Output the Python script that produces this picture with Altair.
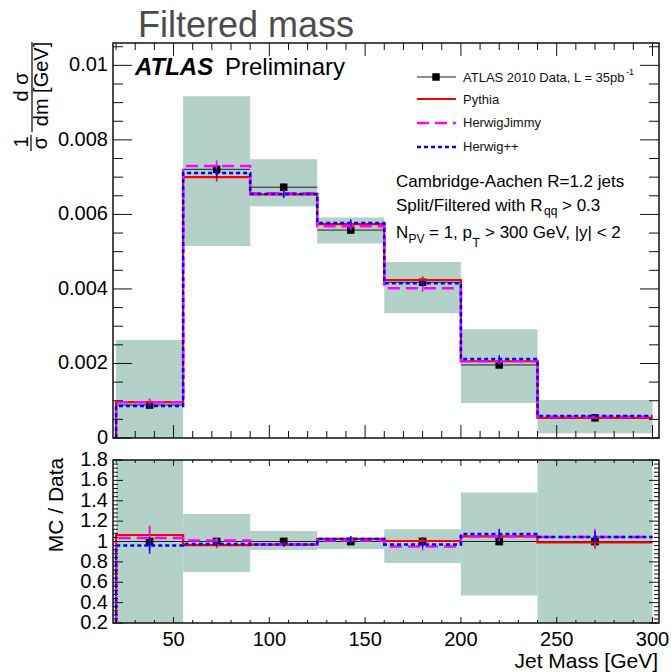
import altair as alt
import pandas as pd

# ---------------- data ----------------
bin_edges = [20, 55, 90, 125, 160, 200, 240, 300]
bin_centers = [37.5, 72.5, 107.5, 142.5, 180, 220, 270]

data_vals = [0.000885, 0.00721, 0.00673, 0.00558, 0.00418, 0.00196, 0.00054]
data_errs = [0.00004, 0.00009, 0.00009, 0.00007, 0.00006, 0.00004, 0.00002]
syst_lo = [0.0, 0.00515, 0.00622, 0.00522, 0.00335, 0.00094, 0.00013]
syst_hi = [0.00263, 0.00917, 0.00748, 0.00592, 0.00472, 0.00292, 0.00102]

pythia_vals = [0.000965, 0.00700, 0.00654, 0.00574, 0.00424, 0.00206, 0.00054]
jimmy_vals = [0.00096, 0.00730, 0.00657, 0.00568, 0.00402, 0.00206, 0.00057]
herwigpp_vals = [0.00086, 0.00711, 0.00655, 0.00577, 0.00415, 0.00212, 0.00059]
pythia_errs = [0.00008, 0.00012, 0.00010, 0.00008, 0.00010, 0.00007, 0.00003]
jimmy_errs = [0.00010, 0.00015, 0.00010, 0.00010, 0.00010, 0.00008, 0.00004]
herwigpp_errs = [0.00007, 0.00012, 0.00010, 0.00010, 0.00008, 0.00010, 0.00003]

ratio_syst_lo = [0.2, 0.70, 0.917, 0.926, 0.79, 0.47, 0.2]
ratio_syst_hi = [1.8, 1.27, 1.103, 1.037, 1.12, 1.48, 1.8]
ratio_data = [1, 1, 1, 1, 1, 1, 1]
ratio_data_errs = [0.05, 0.015, 0.015, 0.015, 0.015, 0.02, 0.04]
pythia_ratio = [1.064, 0.965, 0.97, 1.025, 1.005, 1.05, 0.99]
jimmy_ratio = [1.035, 1.01, 0.97, 1.01, 0.95, 1.05, 1.044]
herwigpp_ratio = [0.96, 0.975, 0.97, 1.025, 0.97, 1.074, 1.044]
pythia_ratio_errs = [0.09, 0.03, 0.02, 0.02, 0.04, 0.04, 0.06]
jimmy_ratio_errs = [0.12, 0.03, 0.02, 0.02, 0.04, 0.05, 0.08]
herwigpp_ratio_errs = [0.08, 0.02, 0.02, 0.03, 0.03, 0.05, 0.06]

# tick values and labels
x_major = [50, 100, 150, 200, 250, 300]
x_labels = ["50", "100", "150", "200", "250", "300"]
x_minor = [v for v in range(20, 301, 10) if v % 50 != 0]
y_top_major = [0, 0.002, 0.004, 0.006, 0.008, 0.01]
y_top_labels = ["0", "0.002", "0.004", "0.006", "0.008", "0.01"]
y_top_minor = [round(0.0005 * k, 5) for k in range(0, 22) if k % 4 != 0]
y_bot_major = [0.2, 0.4, 0.6, 0.8, 1.0, 1.2, 1.4, 1.6, 1.8]
y_bot_labels = ["0.2", "0.4", "0.6", "0.8", "1", "1.2", "1.4", "1.6", "1.8"]
y_bot_minor = [round(0.2 + 0.04 * k, 3) for k in range(0, 41) if k % 5 != 0]

# ---------------- styling ----------------
FONT = "Liberation Sans"
GREEN = "#b3d0c9"
W, H = 546, 580
TOP_H = 395
BOT_TOP = 417
XS = alt.Scale(domain=[18.4, 303.4], nice=False, zero=False)
YT = alt.Scale(domain=[0, 0.0106], range=[TOP_H, 0], nice=False, zero=False)
YB = alt.Scale(domain=[0.2, 1.8], range=[H, BOT_TOP], nice=False, zero=False)

one = pd.DataFrame({"k": [0]})

series = [
    ("Pythia", "#ff0000", [1, 0], 2.2, pythia_vals, pythia_errs, pythia_ratio, pythia_ratio_errs),
    ("HerwigJimmy", "#ff00ff", [12, 6], 2.5, jimmy_vals, jimmy_errs, jimmy_ratio, jimmy_ratio_errs),
    ("Herwig++", "#0000ff", [4, 3], 2.5, herwigpp_vals, herwigpp_errs, herwigpp_ratio, herwigpp_ratio_errs),
]


def bins_df(lo, hi, vals, errs):
    return pd.DataFrame({
        "lo": bin_edges[:-1], "hi": bin_edges[1:], "c": bin_centers,
        "slo": lo, "shi": hi, "v": vals,
        "elo": [a - b for a, b in zip(vals, errs)],
        "ehi": [a + b for a, b in zip(vals, errs)],
    })


def step_df(vals):
    xs = [bin_edges[0]] + bin_edges[:-1] + [bin_edges[-1]]
    ys = [0] + list(vals) + [vals[-1]]
    return pd.DataFrame({"x": xs, "y": ys, "i": list(range(len(xs)))})


def txt(s, x, y, size, align="left", baseline="alphabetic", **kw):
    return alt.Chart(one).mark_text(
        text=s, fontSize=size, font=FONT, align=align, baseline=baseline, **kw
    ).encode(x=alt.value(x), y=alt.value(y))


def vrule(x, y1, y2, color="#111", width=1.2):
    return alt.Chart(one).mark_rule(color=color, strokeWidth=width).encode(
        x=alt.value(x), y=alt.value(y1), y2=alt.value(y2))


def hrule(x1, x2, y, color="#111", width=1.2, dash=None):
    kw = dict(color=color, strokeWidth=width)
    if dash is not None:
        kw["strokeDash"] = dash
    return alt.Chart(one).mark_rule(**kw).encode(
        x=alt.value(x1), x2=alt.value(x2), y=alt.value(y))


def ticks(yscale, ymajor, yminor, ytop, ybot, ylen_major, ylen_minor, xlen_major, xlen_minor):
    layers = []
    for vals, ln in ((x_major, xlen_major), (x_minor, xlen_minor)):
        d = pd.DataFrame({"t": vals})
        layers.append(alt.Chart(d).mark_rule(color="#111", strokeWidth=1).encode(
            x=alt.X("t:Q", scale=XS, axis=None), y=alt.value(ybot), y2=alt.value(ybot - ln)))
        layers.append(alt.Chart(d).mark_rule(color="#111", strokeWidth=1).encode(
            x=alt.X("t:Q", scale=XS, axis=None), y=alt.value(ytop), y2=alt.value(ytop + ln)))
    for vals, ln in ((ymajor, ylen_major), (yminor, ylen_minor)):
        d = pd.DataFrame({"t": vals})
        layers.append(alt.Chart(d).mark_rule(color="#111", strokeWidth=1).encode(
            y=alt.Y("t:Q", scale=yscale, axis=None), x=alt.value(0), x2=alt.value(ln)))
        layers.append(alt.Chart(d).mark_rule(color="#111", strokeWidth=1).encode(
            y=alt.Y("t:Q", scale=yscale, axis=None), x=alt.value(W), x2=alt.value(W - ln)))
    return layers


def ylabels(yscale, vals, labels):
    d = pd.DataFrame({"t": vals, "s": labels})
    return alt.Chart(d).mark_text(font=FONT, fontSize=20, align="right", baseline="middle",
                                  color="#000").encode(
        y=alt.Y("t:Q", scale=yscale, axis=None), x=alt.value(-5), text="s:N")


# ---------------- top panel ----------------
top_df = bins_df(syst_lo, syst_hi, data_vals, data_errs)
top_layers = [
    alt.Chart(top_df).mark_rect(color=GREEN).encode(
        x=alt.X("lo:Q", scale=XS, axis=None), x2="hi:Q",
        y=alt.Y("slo:Q", scale=YT, axis=None), y2="shi:Q"),
    alt.Chart(top_df).mark_rule(color="#222", strokeWidth=1).encode(
        x=alt.X("lo:Q", scale=XS, axis=None), x2="hi:Q",
        y=alt.Y("v:Q", scale=YT, axis=None)),
    alt.Chart(top_df).mark_rule(color="#000", strokeWidth=1.2).encode(
        x=alt.X("c:Q", scale=XS, axis=None),
        y=alt.Y("elo:Q", scale=YT, axis=None), y2="ehi:Q"),
    alt.Chart(top_df).mark_square(color="#000", size=56, opacity=1).encode(
        x=alt.X("c:Q", scale=XS, axis=None), y=alt.Y("v:Q", scale=YT, axis=None)),
]
for name, col, dash, sw, vals, errs, rv, rerrs in series:
    top_layers.append(alt.Chart(step_df(vals)).mark_line(
        interpolate="step-after", color=col, strokeDash=dash, strokeWidth=sw, clip=True).encode(
        x=alt.X("x:Q", scale=XS, axis=None), y=alt.Y("y:Q", scale=YT, axis=None),
        order=alt.Order("i:Q")))
for name, col, dash, sw, vals, errs, rv, rerrs in series:
    d = bins_df(syst_lo, syst_hi, vals, errs)
    top_layers.append(alt.Chart(d).mark_rule(color=col, strokeWidth=1.5).encode(
        x=alt.X("c:Q", scale=XS, axis=None),
        y=alt.Y("elo:Q", scale=YT, axis=None), y2="ehi:Q"))

top_layers += ticks(YT, y_top_major, y_top_minor, 0, TOP_H, 19, 10, 13, 7)
top_layers.append(alt.Chart(one).mark_rect(fill="transparent", stroke="#111", strokeWidth=1.5).encode(
    x=alt.value(0), x2=alt.value(W), y=alt.value(0), y2=alt.value(TOP_H)))
top_layers.append(ylabels(YT, y_top_major, y_top_labels))

# texts for top panel
top_layers += [
    txt("Filtered mass", 25, -6, 36, color="#4d4d4d"),
    txt("ATLAS", 22, 32, 24, fontStyle="italic", fontWeight="bold", color="#000"),
    txt("Preliminary", 112, 32, 24, color="#000"),
    # legend
    hrule(304, 343, 34, color="#222", width=1.2),
    alt.Chart(one).mark_square(color="#000", size=56, opacity=1).encode(
        x=alt.value(323), y=alt.value(34)),
    txt("ATLAS 2010 Data, L = 35pb", 350, 35, 13, baseline="middle", color="#111"),
    txt("-1", 513, 29, 9, baseline="middle", color="#111"),
    hrule(304, 343, 56, color="#ff0000", width=2.2),
    txt("Pythia", 350, 57, 13, baseline="middle", color="#111"),
    hrule(304, 343, 80, color="#ff00ff", width=2.5, dash=[12, 6]),
    txt("HerwigJimmy", 350, 80, 13, baseline="middle", color="#111"),
    hrule(304, 343, 104, color="#0000ff", width=2.5, dash=[4, 3]),
    txt("Herwig++", 350, 104, 13, baseline="middle", color="#111"),
    # annotation
    txt("Cambridge-Aachen R=1.2 jets", 283, 144, 17, color="#000"),
    txt("Split/Filtered with R", 283, 168, 17, color="#000"),
    txt("qq", 431, 172, 12, color="#000"),
    txt("> 0.3", 449, 168, 17, color="#000"),
    txt("N", 283, 195, 17, color="#000"),
    txt("PV", 295.5, 200, 12, color="#000"),
    txt("= 1, p", 316, 195, 17, color="#000"),
    txt("T", 359.5, 204, 12, color="#000"),
    txt("> 300 GeV, |y| < 2", 372, 195, 17, color="#000"),
    # y title (fraction)
    txt("1", -91, 99, 20, align="center", baseline="middle", angle=270, color="#000"),
    txt("σ", -72, 100, 20, align="center", baseline="middle", angle=270, color="#000"),
    vrule(-82, 92, 108, color="#000", width=1.2),
    txt("d σ", -91, 44, 20, align="center", baseline="middle", angle=270, color="#000"),
    txt("dm [GeV]", -71, 41, 20, align="center", baseline="middle", angle=270, color="#000"),
    vrule(-81, -1, 89, color="#000", width=1.2),
]

# ---------------- bottom panel ----------------
bot_df = bins_df(ratio_syst_lo, ratio_syst_hi, ratio_data, ratio_data_errs)
bot_layers = [
    alt.Chart(bot_df).mark_rect(color=GREEN).encode(
        x=alt.X("lo:Q", scale=XS, axis=None), x2="hi:Q",
        y=alt.Y("slo:Q", scale=YB, axis=None), y2="shi:Q"),
    alt.Chart(bot_df).mark_rule(color="#222", strokeWidth=1).encode(
        x=alt.X("lo:Q", scale=XS, axis=None), x2="hi:Q",
        y=alt.Y("v:Q", scale=YB, axis=None)),
    alt.Chart(bot_df).mark_rule(color="#000", strokeWidth=1.2).encode(
        x=alt.X("c:Q", scale=XS, axis=None),
        y=alt.Y("elo:Q", scale=YB, axis=None), y2="ehi:Q"),
    alt.Chart(bot_df).mark_square(color="#000", size=60, opacity=1).encode(
        x=alt.X("c:Q", scale=XS, axis=None), y=alt.Y("v:Q", scale=YB, axis=None)),
]
for name, col, dash, sw, vals, errs, rv, rerrs in series:
    bot_layers.append(alt.Chart(step_df(rv)).mark_line(
        interpolate="step-after", color=col, strokeDash=dash, strokeWidth=sw, clip=True).encode(
        x=alt.X("x:Q", scale=XS, axis=None), y=alt.Y("y:Q", scale=YB, axis=None),
        order=alt.Order("i:Q")))
for name, col, dash, sw, vals, errs, rv, rerrs in series:
    d = bins_df(ratio_syst_lo, ratio_syst_hi, rv, rerrs)
    bot_layers.append(alt.Chart(d).mark_rule(color=col, strokeWidth=1.5).encode(
        x=alt.X("c:Q", scale=XS, axis=None),
        y=alt.Y("elo:Q", scale=YB, axis=None), y2="ehi:Q"))

bot_layers += ticks(YB, y_bot_major, y_bot_minor, BOT_TOP, H, 10, 5, 6, 3)
bot_layers.append(alt.Chart(one).mark_rect(fill="transparent", stroke="#111", strokeWidth=1.5).encode(
    x=alt.value(0), x2=alt.value(W), y=alt.value(BOT_TOP), y2=alt.value(H)))
bot_layers.append(ylabels(YB, y_bot_major, y_bot_labels))
bot_layers.append(alt.Chart(pd.DataFrame({"t": x_major, "s": x_labels})).mark_text(
    font=FONT, fontSize=20, align="center", baseline="middle", color="#000").encode(
    x=alt.X("t:Q", scale=XS, axis=None), y=alt.value(H + 17), text="s:N"))
bot_layers += [
    txt("MC / Data", -56, 462, 21, align="center", baseline="middle", angle=270, color="#000"),
    txt("Jet Mass [GeV]", 545, 619, 21, align="right", baseline="middle", color="#000"),
]

chart = alt.layer(alt.layer(*top_layers), alt.layer(*bot_layers)).resolve_scale(
    y="independent"
).properties(
    width=W, height=H,
    autosize=alt.AutoSizeParams(type="none"),
    padding={"left": 113, "top": 43, "right": 12, "bottom": 49},
).configure_view(stroke="transparent")

chart.save("out.html", embed_options={"renderer": "svg", "actions": False})
